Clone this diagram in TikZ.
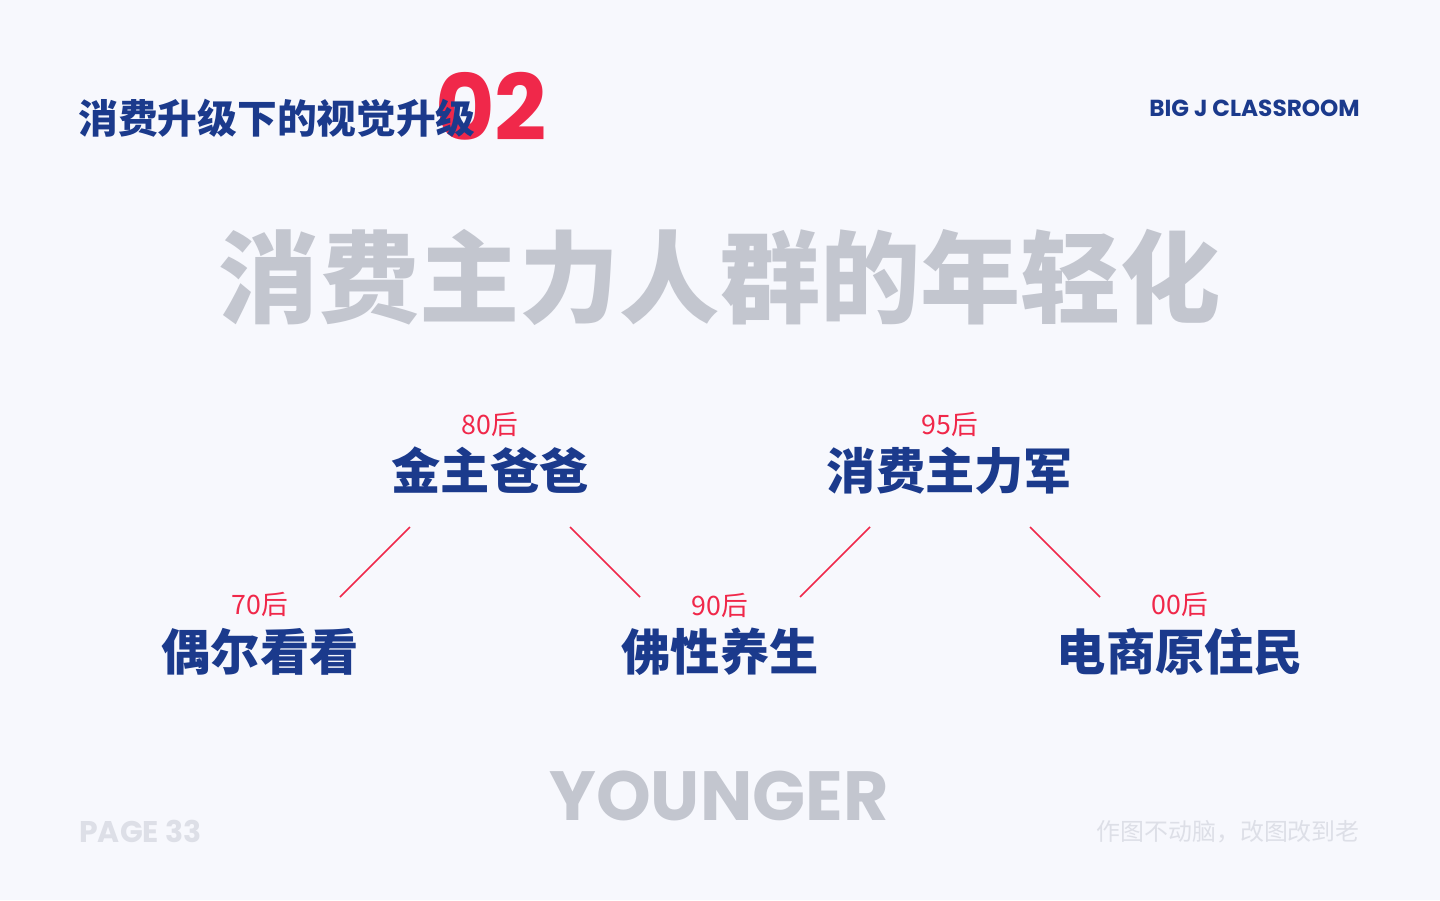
\documentclass[tikz,border=0pt]{standalone}
\usepackage{fontspec}
\newfontfamily\cjk{Noto Sans CJK SC}
\newfontfamily\pop{Poppins}
\usetikzlibrary{positioning,calc}
\definecolor{bgpage}{HTML}{F7F8FD}
\definecolor{navy}{HTML}{1B3A8C}
\definecolor{hotred}{HTML}{F0284A}
\definecolor{softgray}{HTML}{C3C6CF}
\definecolor{palegray}{HTML}{DDDFE7}
\tikzset{
  every picture/.style={line width=0.75pt},
  gen/.style={inner sep=0pt, text=navy, font=\cjk\bfseries\fontsize{14}{16}\selectfont},
  age/.style={inner sep=0pt, text=hotred, font=\cjk\fontsize{7.6}{9}\selectfont},
  link/.style={draw=hotred, line width=0.45pt}
}

\begin{document}
\begin{tikzpicture}[x=0.01cm, y=-0.01cm]
    % 背景
    \fill[bgpage] (0,0) rectangle (1440,900);
    \useasboundingbox (0,0) rectangle (1440,900);
    % 页眉
    \node[inner sep=0pt, anchor=west, text=hotred, font=\pop\bfseries\fontsize{26}{28}\selectfont] (num) at (434,106) {02};
    \node[inner sep=0pt, anchor=west, text=navy, font=\cjk\bfseries\fontsize{11.3}{13}\selectfont] (head) at (77,118) {消费升级下的视觉升级};
    \node[inner sep=0pt, anchor=east, text=navy, font=\pop\bfseries\fontsize{6.6}{8}\selectfont] (brand) at (1361,108) {BIG J CLASSROOM};
    % 标题
    \node[inner sep=0pt, text=softgray, font=\cjk\bfseries\fontsize{28.5}{30}\selectfont] (title) at (720,277) {消费主力人群的年轻化};
    % 上排
    \node[gen] (gold) at (490,470) {金主爸爸};
    \node[age] (a80) at (490,424) {80后};
    \node[gen] (main) at (950,471) {消费主力军};
    \node[age] (a95) at (950,424) {95后};
    % 下排
    \node[gen] (look) at (260,652) {偶尔看看};
    \node[age] (a70) at (260,604) {70后};
    \node[gen] (zen) at (720,652) {佛性养生};
    \node[age] (a90) at (720,605) {90后};
    \node[gen] (native) at (1180,652) {电商原住民};
    \node[age] (a00) at (1180,604) {00后};
    % 连线
    \coordinate (p1) at (340,597);
    \coordinate (q1) at (410,527);
    \coordinate (q2) at (570,527);
    \coordinate (p2) at (640,597);
    \coordinate (p3) at (800,597);
    \coordinate (q3) at (870,527);
    \coordinate (q4) at (1030,527);
    \coordinate (p4) at (1100,597);
    \draw[link] (p1) -- (q1);
    \draw[link] (q2) -- (p2);
    \draw[link] (p3) -- (q3);
    \draw[link] (q4) -- (p4);
    % 页脚
    \node[inner sep=0pt, text=softgray, font=\pop\bfseries\fontsize{19.8}{22}\selectfont] (young) at (719,796) {YOUNGER};
    \node[inner sep=0pt, anchor=west, text=palegray, font=\pop\bfseries\fontsize{8.5}{10}\selectfont] (page) at (78,831) {PAGE 33};
    \node[inner sep=0pt, anchor=east, text=palegray, font=\cjk\fontsize{6.8}{8}\selectfont] (motto) at (1361,832) {作图不动脑，改图改到老};
\end{tikzpicture}
\end{document}
